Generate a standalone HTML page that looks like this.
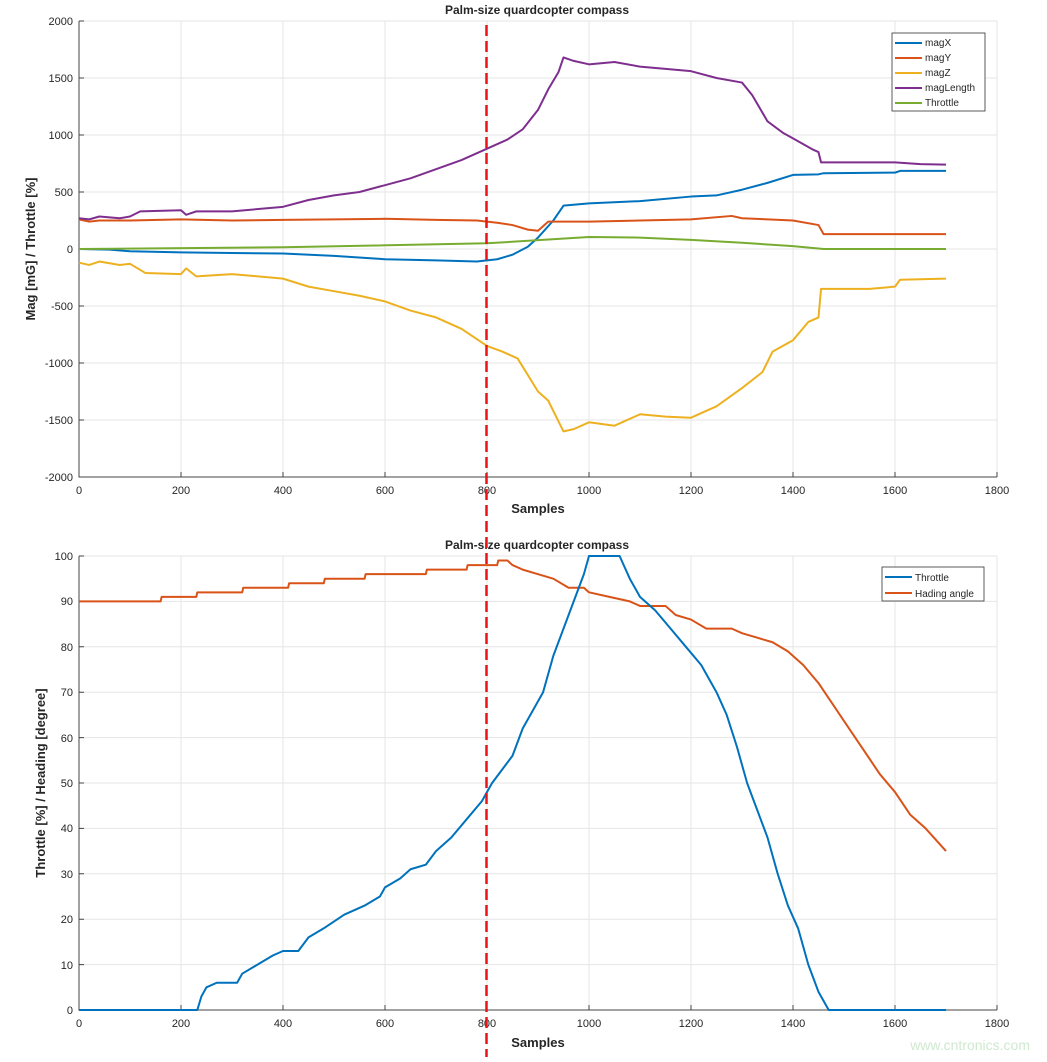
<!DOCTYPE html>
<html><head><style>
body{margin:0;background:#fff;}
svg text{font-family:"Liberation Sans",Arial,sans-serif;fill:#262626;}
</style></head><body>
<svg width="1047" height="1057" viewBox="0 0 1047 1057" xmlns="http://www.w3.org/2000/svg">
<rect width="1047" height="1057" fill="#fff"/>
<!-- TOP PLOT grid -->
<g stroke="#e6e6e6" stroke-width="1">
<line x1="181" y1="21" x2="181" y2="477"/><line x1="283" y1="21" x2="283" y2="477"/><line x1="385" y1="21" x2="385" y2="477"/><line x1="487" y1="21" x2="487" y2="477"/><line x1="589" y1="21" x2="589" y2="477"/><line x1="691" y1="21" x2="691" y2="477"/><line x1="793" y1="21" x2="793" y2="477"/><line x1="895" y1="21" x2="895" y2="477"/><line x1="997" y1="21" x2="997" y2="477"/>
<line x1="79" y1="21" x2="997" y2="21"/><line x1="79" y1="78" x2="997" y2="78"/><line x1="79" y1="135" x2="997" y2="135"/><line x1="79" y1="192" x2="997" y2="192"/><line x1="79" y1="249" x2="997" y2="249"/><line x1="79" y1="306" x2="997" y2="306"/><line x1="79" y1="363" x2="997" y2="363"/><line x1="79" y1="420" x2="997" y2="420"/>
</g>
<g stroke="#444" stroke-width="1" fill="none">
<path d="M79,21 V477 H997"/>
<path d="M79,21h5M79,78h5M79,135h5M79,192h5M79,249h5M79,306h5M79,363h5M79,420h5M181,477v-5M283,477v-5M385,477v-5M487,477v-5M589,477v-5M691,477v-5M793,477v-5M895,477v-5M997,477v-5"/>
</g>
<g font-size="11" text-anchor="end">
<text x="73" y="25">2000</text><text x="73" y="82">1500</text><text x="73" y="139">1000</text><text x="73" y="196">500</text><text x="73" y="253">0</text><text x="73" y="310">-500</text><text x="73" y="367">-1000</text><text x="73" y="424">-1500</text><text x="73" y="481">-2000</text>
</g>
<g font-size="11" text-anchor="middle">
<text x="79" y="494">0</text><text x="181" y="494">200</text><text x="283" y="494">400</text><text x="385" y="494">600</text><text x="487" y="494">800</text><text x="589" y="494">1000</text><text x="691" y="494">1200</text><text x="793" y="494">1400</text><text x="895" y="494">1600</text><text x="997" y="494">1800</text>
</g>
<text x="538" y="513" font-size="13" font-weight="bold" text-anchor="middle">Samples</text>
<text x="537" y="14" font-size="12" font-weight="bold" text-anchor="middle">Palm-size quardcopter compass</text>
<text transform="translate(35,249) rotate(-90)" font-size="13" font-weight="bold" text-anchor="middle">Mag [mG] / Throttle [%]</text>
<g transform="translate(79,249) scale(0.51,-0.114)" fill="none" stroke-width="2" stroke-linejoin="round">
<polyline vector-effect="non-scaling-stroke" stroke="#0072BD" points="0,0 60,-5 100,-20 200,-30 300,-35 400,-40 500,-60 600,-90 700,-100 780,-110 820,-90 850,-50 880,20 900,100 930,250 950,380 1000,400 1100,420 1200,460 1250,470 1300,520 1350,580 1400,650 1450,655 1460,665 1600,670 1610,685 1700,685"/>
<polyline vector-effect="non-scaling-stroke" stroke="#D95319" points="0,260 20,240 40,250 100,250 200,260 300,250 400,255 500,260 600,265 700,255 780,250 820,230 850,210 880,170 900,160 920,240 1000,240 1100,250 1200,260 1280,290 1300,270 1400,250 1450,210 1460,130 1700,130"/>
<polyline vector-effect="non-scaling-stroke" stroke="#EDB120" points="0,-120 20,-140 40,-110 80,-140 100,-130 130,-210 200,-220 210,-170 230,-240 300,-220 400,-260 450,-330 500,-370 550,-410 600,-460 650,-540 700,-600 750,-700 800,-850 830,-900 860,-960 900,-1250 920,-1330 950,-1600 970,-1580 1000,-1520 1050,-1550 1100,-1450 1150,-1470 1200,-1480 1250,-1380 1300,-1220 1340,-1080 1360,-900 1400,-800 1430,-640 1450,-600 1455,-350 1550,-350 1600,-330 1610,-270 1700,-260"/>
<polyline vector-effect="non-scaling-stroke" stroke="#7E2F8E" points="0,270 20,260 40,285 80,270 100,285 120,330 200,340 210,300 230,330 300,330 400,370 450,430 500,470 550,500 600,560 650,620 700,700 750,780 800,880 840,960 870,1050 900,1220 920,1400 940,1550 950,1680 970,1650 1000,1620 1050,1640 1100,1600 1150,1580 1200,1560 1250,1500 1300,1460 1320,1350 1350,1120 1380,1020 1400,970 1440,870 1450,850 1455,760 1600,760 1650,745 1700,740"/>
<polyline vector-effect="non-scaling-stroke" stroke="#77AC30" points="0,0 400,15 800,50 1000,105 1100,100 1200,80 1300,55 1400,25 1460,0 1700,0"/>
</g>
<g font-size="10">
<rect x="892" y="33" width="93" height="78" fill="#fff" stroke="#333" stroke-width="0.8"/>
<line x1="895" y1="43" x2="922" y2="43" stroke="#0072BD" stroke-width="2"/><text x="925" y="46">magX</text>
<line x1="895" y1="58" x2="922" y2="58" stroke="#D95319" stroke-width="2"/><text x="925" y="61">magY</text>
<line x1="895" y1="73" x2="922" y2="73" stroke="#EDB120" stroke-width="2"/><text x="925" y="76">magZ</text>
<line x1="895" y1="88" x2="922" y2="88" stroke="#7E2F8E" stroke-width="2"/><text x="925" y="91">magLength</text>
<line x1="895" y1="103" x2="922" y2="103" stroke="#77AC30" stroke-width="2"/><text x="925" y="106">Throttle</text>
</g>
<!-- BOTTOM PLOT -->
<g stroke="#e6e6e6" stroke-width="1">
<line x1="181" y1="556" x2="181" y2="1010"/><line x1="283" y1="556" x2="283" y2="1010"/><line x1="385" y1="556" x2="385" y2="1010"/><line x1="487" y1="556" x2="487" y2="1010"/><line x1="589" y1="556" x2="589" y2="1010"/><line x1="691" y1="556" x2="691" y2="1010"/><line x1="793" y1="556" x2="793" y2="1010"/><line x1="895" y1="556" x2="895" y2="1010"/><line x1="997" y1="556" x2="997" y2="1010"/>
<line x1="79" y1="556" x2="997" y2="556"/><line x1="79" y1="601.4" x2="997" y2="601.4"/><line x1="79" y1="646.8" x2="997" y2="646.8"/><line x1="79" y1="692.2" x2="997" y2="692.2"/><line x1="79" y1="737.6" x2="997" y2="737.6"/><line x1="79" y1="783" x2="997" y2="783"/><line x1="79" y1="828.4" x2="997" y2="828.4"/><line x1="79" y1="873.8" x2="997" y2="873.8"/><line x1="79" y1="919.2" x2="997" y2="919.2"/><line x1="79" y1="964.6" x2="997" y2="964.6"/>
</g>
<g stroke="#444" stroke-width="1" fill="none">
<path d="M79,556 V1010 H997"/>
<path d="M79,556h5M79,601.4h5M79,646.8h5M79,692.2h5M79,737.6h5M79,783h5M79,828.4h5M79,873.8h5M79,919.2h5M79,964.6h5M181,1010v-5M283,1010v-5M385,1010v-5M487,1010v-5M589,1010v-5M691,1010v-5M793,1010v-5M895,1010v-5M997,1010v-5"/>
</g>
<g font-size="11" text-anchor="end">
<text x="73" y="560">100</text><text x="73" y="605">90</text><text x="73" y="651">80</text><text x="73" y="696">70</text><text x="73" y="742">60</text><text x="73" y="787">50</text><text x="73" y="832">40</text><text x="73" y="878">30</text><text x="73" y="923">20</text><text x="73" y="969">10</text><text x="73" y="1014">0</text>
</g>
<g font-size="11" text-anchor="middle">
<text x="79" y="1027">0</text><text x="181" y="1027">200</text><text x="283" y="1027">400</text><text x="385" y="1027">600</text><text x="487" y="1027">800</text><text x="589" y="1027">1000</text><text x="691" y="1027">1200</text><text x="793" y="1027">1400</text><text x="895" y="1027">1600</text><text x="997" y="1027">1800</text>
</g>
<text x="538" y="1047" font-size="13" font-weight="bold" text-anchor="middle">Samples</text>
<text x="537" y="549" font-size="12" font-weight="bold" text-anchor="middle">Palm-size quardcopter compass</text>
<text transform="translate(45,783) rotate(-90)" font-size="13" font-weight="bold" text-anchor="middle">Throttle [%] / Heading [degree]</text>
<g transform="translate(79,1010) scale(0.51,-4.54)" fill="none" stroke-width="2" stroke-linejoin="round">
<polyline vector-effect="non-scaling-stroke" stroke="#D95319" points="0,90 160,90 162,91 230,91 232,92 320,92 322,93 410,93 412,94 480,94 482,95 560,95 562,96 680,96 682,97 760,97 762,98 820,98 822,99 840,99 850,98 870,97 900,96 930,95 960,93 990,93 1000,92 1040,91 1080,90 1100,89 1150,89 1170,87 1200,86 1230,84 1280,84 1300,83 1330,82 1360,81 1390,79 1420,76 1450,72 1480,67 1510,62 1540,57 1570,52 1600,48 1630,43 1660,40 1700,35"/>
<polyline vector-effect="non-scaling-stroke" stroke="#0072BD" points="0,0 232,0 240,3 250,5 270,6 310,6 320,8 350,10 380,12 400,13 430,13 450,16 480,18 520,21 560,23 590,25 600,27 630,29 650,31 680,32 700,35 730,38 760,42 790,46 810,50 830,53 850,56 870,62 890,66 910,70 930,78 950,84 970,90 990,96 1000,100 1060,100 1080,95 1100,91 1130,88 1160,84 1190,80 1220,76 1250,70 1270,65 1290,58 1310,50 1330,44 1350,38 1370,30 1390,23 1410,18 1430,10 1450,4 1470,0 1700,0"/>
</g>
<g font-size="10">
<rect x="882" y="567" width="102" height="34" fill="#fff" stroke="#333" stroke-width="0.8"/>
<line x1="885" y1="577" x2="912" y2="577" stroke="#0072BD" stroke-width="2"/><text x="915" y="581">Throttle</text>
<line x1="885" y1="593" x2="912" y2="593" stroke="#D95319" stroke-width="2"/><text x="915" y="597">Hading angle</text>
</g>
<!-- red dashed marker -->
<line x1="486.5" y1="25" x2="486.5" y2="1057" stroke="#e8141a" stroke-width="2.5" stroke-dasharray="11,5"/>
<text x="1030" y="1050" font-size="14" text-anchor="end" style="fill:#cfe8cf">www.cntronics.com</text>
</svg>
</body></html>
